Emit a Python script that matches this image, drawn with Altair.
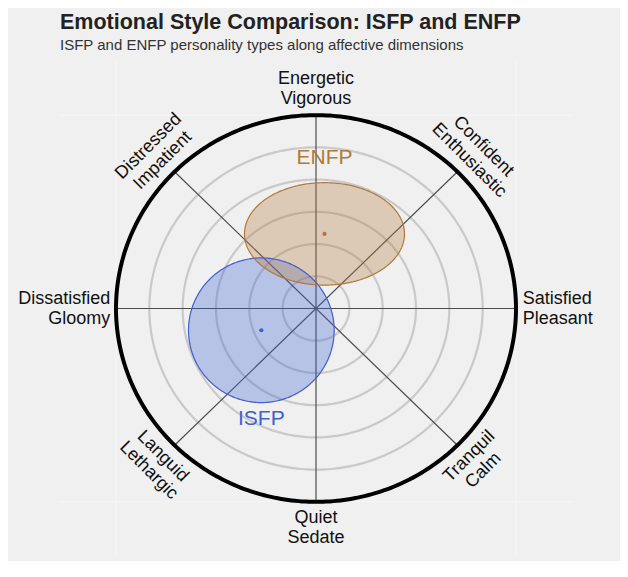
import altair as alt
import numpy as np
import pandas as pd

TITLE = "Emotional Style Comparison: ISFP and ENFP"
SUBTITLE = "ISFP and ENFP personality types along affective dimensions"

# circumplex geometry (data units)
ring_radii = [0.2, 0.4, 0.6, 0.8, 1.0]
outer_radius = 1.2
spoke_angles = [0, 45, 90, 135]
grid_values = [-1.2, 1.2]
domain = [-1.536, 1.536]

# dimension labels around the circle
dim_labels = ["Satisfied\nPleasant", "Confident\nEnthusiastic", "Energetic\nVigorous",
              "Distressed\nImpatient", "Dissatisfied\nGloomy", "Languid\nLethargic",
              "Quiet\nSedate", "Tranquil\nCalm"]
dim_angles = [0, 45, 90, 135, 180, 225, 270, 315]
dim_radius = [1.24, 1.36, 1.36, 1.36, 1.235, 1.36, 1.36, 1.36]
dim_rotation = [0, 45, 0, 315, 0, 45, 0, 315]
dim_align = ["left", "center", "center", "center", "right", "center", "center", "center"]

# personality types
types = ["ISFP", "ENFP"]
center_x = [-0.328, 0.051]
center_y = [-0.135, 0.463]
radius_x = [0.437, 0.48]
radius_y = [0.449, 0.318]
label_y = [-0.687, 0.933]
type_colors = ["#3f5fd2", "#b07a3c"]
label_colors = ["#3650b8", "#8c5a2b"]
dot_colors = ["#5a72e0", "#b8875a"]

FONT = "Liberation Sans"

# ---- build tables ----
t_full = np.linspace(0, 2 * np.pi, 361)
ring_rows = []
for r in ring_radii:
    for i, t in enumerate(t_full):
        ring_rows.append({"ring": r, "i": i, "x": r * np.cos(t), "y": r * np.sin(t)})
rings_df = pd.DataFrame(ring_rows)

outer_df = pd.DataFrame({"i": range(len(t_full)),
                         "x": outer_radius * np.cos(t_full),
                         "y": outer_radius * np.sin(t_full)})

spoke_df = pd.DataFrame({
    "x": [outer_radius * np.cos(np.radians(a)) for a in spoke_angles],
    "y": [outer_radius * np.sin(np.radians(a)) for a in spoke_angles],
    "x2": [-outer_radius * np.cos(np.radians(a)) for a in spoke_angles],
    "y2": [-outer_radius * np.sin(np.radians(a)) for a in spoke_angles],
})

t_half = np.linspace(0, np.pi, 181)
fill_rows, edge_rows = [], []
for k, name in enumerate(types):
    for t in t_half:
        fill_rows.append({"type": name,
                          "x": center_x[k] + radius_x[k] * np.cos(t),
                          "y": center_y[k] + radius_y[k] * np.sin(t),
                          "y2": center_y[k] - radius_y[k] * np.sin(t)})
    for i, t in enumerate(t_full):
        edge_rows.append({"type": name, "i": i,
                          "x": center_x[k] + radius_x[k] * np.cos(t),
                          "y": center_y[k] + radius_y[k] * np.sin(t)})
fill_df = pd.DataFrame(fill_rows)
edge_df = pd.DataFrame(edge_rows)

types_df = pd.DataFrame({"type": types, "cx": center_x, "cy": center_y, "ly": label_y})

dim_df = pd.DataFrame({
    "label": dim_labels,
    "x": [r * np.cos(np.radians(a)) for r, a in zip(dim_radius, dim_angles)],
    "y": [r * np.sin(np.radians(a)) for r, a in zip(dim_radius, dim_angles)],
    "rot": dim_rotation,
    "align": dim_align,
})

xs = alt.Scale(domain=domain, nice=False, zero=False)
ys = alt.Scale(domain=domain, nice=False, zero=False)


def X(f):
    return alt.X(f, type="quantitative", scale=xs, axis=None)


def Y(f):
    return alt.Y(f, type="quantitative", scale=ys, axis=None)


color_scale = alt.Scale(domain=types, range=type_colors)

grid_v = alt.Chart(pd.DataFrame({"g": grid_values})).mark_rule(
    color="#f6f6f6", strokeWidth=1).encode(x=X("g"))
grid_h = alt.Chart(pd.DataFrame({"g": grid_values})).mark_rule(
    color="#f6f6f6", strokeWidth=1).encode(y=Y("g"))

rings = alt.Chart(rings_df).mark_line(color="#c9c9c9", strokeWidth=2.2).encode(
    x=X("x"), y=Y("y"), detail="ring:N", order="i:Q")

spokes = alt.Chart(spoke_df).mark_rule(color="#4d4d4d", strokeWidth=1.2).encode(
    x=X("x"), y=Y("y"), x2="x2", y2="y2")

fills = alt.Chart(fill_df).mark_area(fillOpacity=0.32, strokeWidth=0).encode(
    x=X("x"), y=Y("y"), y2="y2",
    color=alt.Color("type:N", scale=color_scale, legend=None))

edges = alt.Chart(edge_df).mark_line(strokeWidth=1.2).encode(
    x=X("x"), y=Y("y"), order="i:Q",
    color=alt.Color("type:N", scale=color_scale, legend=None))

outer = alt.Chart(outer_df).mark_line(color="#000000", strokeWidth=4).encode(
    x=X("x"), y=Y("y"), order="i:Q")

dots = alt.Chart(types_df).mark_circle(size=18, opacity=1).encode(
    x=X("cx"), y=Y("cy"),
    color=alt.Color("type:N", scale=alt.Scale(domain=types, range=dot_colors), legend=None))

type_labels = alt.Chart(types_df).mark_text(
    font=FONT, fontSize=21, baseline="middle", align="center").encode(
    x=X("cx"), y=Y("ly"), text="type:N",
    color=alt.Color("type:N", scale=alt.Scale(domain=types, range=label_colors), legend=None))

dim_layers = []
for al in ["center", "left", "right"]:
    dim_layers.append(
        alt.Chart(dim_df).transform_filter(alt.datum.align == al).mark_text(
            font=FONT, fontSize=18, lineHeight=20, lineBreak="\n", dy=-10,
            align=al, baseline="middle", color="#111111").encode(
            x=X("x"), y=Y("y"), text="label:N",
            angle=alt.Angle("rot:Q", scale=None)))

chart = alt.layer(grid_v, grid_h, rings, spokes, fills, edges, outer, dots,
                  type_labels, *dim_layers).properties(
    width=512, height=495,
    padding={"left": 52, "top": 53, "right": 48, "bottom": 5},
    autosize=alt.AutoSizeParams(type="none"),
    background="#f0f0f0",
    title=alt.TitleParams(
        text=TITLE, subtitle=SUBTITLE, anchor="start", frame="group", font=FONT,
        fontSize=21.5, fontWeight="bold", color="#222222",
        subtitleFont=FONT, subtitleFontSize=15, subtitleColor="#333333",
        subtitlePadding=4, offset=8),
).configure_view(stroke=None, fill="#f0f0f0")

chart.save("out.html", embed_options={"renderer": "svg", "actions": False})
